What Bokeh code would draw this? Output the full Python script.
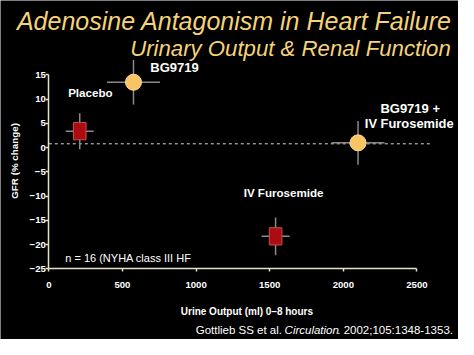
from bokeh.plotting import figure
from bokeh.models import Range1d, FixedTicker, Label, ColumnDataSource
from bokeh.embed import file_html
from bokeh.resources import INLINE
import math

# ---- data ----
groups = ["Placebo", "BG9719", "BG9719 + IV Furosemide", "IV Furosemide"]
urine = [210, 575, 2100, 1540]          # ml, 0-8 h
urine_err = [95, 180, 180, 95]
gfr = [3.4, 13.5, 1.0, -18.3]           # % change
gfr_err = [3.7, 4.6, 4.5, 3.9]
is_bg = [False, True, True, False]
baseline = 0.8
x_ticks = [0, 500, 1000, 1500, 2000, 2500]
y_ticks = [15, 10, 5, 0, -5, -10, -15, -20, -25]

FONT = "Liberation Sans"
W, H = 458, 339
RW, RH = 474, 355          # reference picture size, mapped proportionally onto the figure
# reference-pixel layout of the data area: x=0 at px 50, x=2500 at px 431; y=15 at px 78, y=-25 at px 281
XS = (431 - 50) / 2500.0
YS = (281 - 78) / 40.0
def dx(px):
    return (px - 50) / XS
def dy(py):
    return -25 + (281 - py) / YS

p = figure(width=W, height=H, output_backend="svg", toolbar_location=None,
           x_range=Range1d(dx(0), dx(RW)), y_range=Range1d(dy(RH), dy(0)),
           min_border=0, min_border_left=0, min_border_right=0,
           min_border_top=0, min_border_bottom=0,
           background_fill_color="black", border_fill_color="black")
p.outline_line_color = None
p.grid.visible = False

axis_col = "#e6e2c8"
for ax in (p.xaxis[0], p.yaxis[0]):
    ax.axis_line_color = axis_col
    ax.axis_line_width = 1.5
    ax.major_tick_line_color = axis_col
    ax.major_tick_line_width = 1.5
    ax.major_tick_in = 0
    ax.major_tick_out = 3
    ax.minor_tick_line_color = None
    ax.major_label_text_color = "white"
    ax.major_label_text_font = FONT
    ax.major_label_text_font_style = "bold"
    ax.major_label_text_font_size = "9.6px"
p.xaxis.ticker = FixedTicker(ticks=x_ticks)
p.yaxis.ticker = FixedTicker(ticks=y_ticks)
p.xaxis.bounds = (0, 2500)
p.yaxis.bounds = (-25, 15)
p.xaxis.fixed_location = -25
p.yaxis.fixed_location = 0
p.xaxis.major_label_standoff = 10
p.yaxis.major_label_standoff = 0

# dashed baseline
p.line([0, 2600], [baseline, baseline], line_color="#d8d8d8", line_width=1, line_dash="3 3")

# error bars
src = ColumnDataSource(dict(
    x=urine, y=gfr,
    x0=[a - b for a, b in zip(urine, urine_err)], x1=[a + b for a, b in zip(urine, urine_err)],
    y0=[a - b for a, b in zip(gfr, gfr_err)], y1=[a + b for a, b in zip(gfr, gfr_err)],
))
p.segment(x0="x0", y0="y", x1="x1", y1="y", source=src, line_color="#8a8a8a", line_width=1.5)
p.segment(x0="x", y0="y0", x1="x", y1="y1", source=src, line_color="#8a8a8a", line_width=1.5)

bx = [x for x, b in zip(urine, is_bg) if b]
by = [y for y, b in zip(gfr, is_bg) if b]
sx = [x for x, b in zip(urine, is_bg) if not b]
sy = [y for y, b in zip(gfr, is_bg) if not b]
p.rect(sx, sy, width=12.6, height=17.2, width_units="screen", height_units="screen",
       fill_color="#aa0c12", line_color="#c85050", line_width=1)
p.scatter(bx, by, size=16, fill_color="#f9c462", line_color="#ffdc98", line_width=1)

def lab(text, px, py, size, align="left", base="middle", style="normal", color="white", angle=0):
    p.add_layout(Label(x=dx(px), y=dy(py), text=text, text_font=FONT, text_font_size=size,
                       text_font_style=style, text_color=color, text_align=align,
                       text_baseline=base, angle=angle))

# titles
tc = "#f5d37a"
lab("Adenosine Antagonism in Heart Failure", 17, 21, "25px", style="italic", color=tc, base="alphabetic")
lab("Urinary Output & Renal Function", 466, 50, "22.2px", align="right", style="italic", color=tc, base="alphabetic")

# point labels
lab(groups[0], 93, 96, "11.6px", align="center", style="bold")
lab(groups[1], 155, 70, "13px", style="bold")
lab("BG9719 +", 424, 113, "13px", align="center", style="bold")
lab("IV Furosemide", 423, 129, "12.9px", align="center", style="bold")
lab(groups[3], 293, 201, "11.6px", align="center", style="bold")
lab("n = 16 (NYHA class III HF", 67, 270, "11px")

# axis titles
lab("GFR (% change)", 15, 168, "9.8px", align="center", style="bold", angle=math.pi / 2)
lab("Urine Output (ml) 0\u20138 hours", 255, 326, "10px", align="center", style="bold")

# citation
lab("Gottlieb SS et al. ", 202, 345, "11.5px")
lab("Circulation", 294, 345, "11.5px", style="italic")
lab(". 2002;105:1348-1353.", 348.5, 345, "11.5px")

open("out.html", "w").write(file_html(p, INLINE))
